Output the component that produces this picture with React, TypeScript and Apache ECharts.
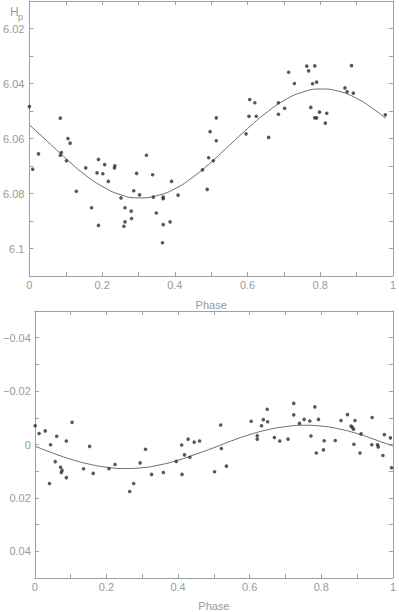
import React, { useEffect, useRef } from "react";
import * as echarts from "echarts";

// ---- Top panel (Hp magnitude) ----
const topPhase = [
  0.000, 0.085, 0.106, 0.112, 0.497, 0.514, 0.514, 0.596, 0.604, 0.606,
  0.620, 0.624, 0.658, 0.685, 0.685, 0.702, 0.713, 0.729, 0.763, 0.768,
  0.785, 0.779, 0.790, 0.774, 0.785, 0.790, 0.798, 0.814, 0.818, 0.868,
  0.874, 0.886, 0.891, 0.979, 0.009, 0.025, 0.085, 0.088, 0.102, 0.129,
  0.155, 0.171, 0.186, 0.190, 0.190, 0.202, 0.207, 0.217, 0.234, 0.235,
  0.252, 0.263, 0.260, 0.263, 0.280, 0.281, 0.287, 0.295, 0.303, 0.322,
  0.339, 0.341, 0.349, 0.368, 0.368, 0.368, 0.366, 0.387, 0.391, 0.409,
  0.476, 0.493, 0.506, 0.489,
];
const topMag = [
  6.0484, 6.0526, 6.0600, 6.0617, 6.0575, 6.0525, 6.0608, 6.0583, 6.0519, 6.0458,
  6.0470, 6.0519, 6.0596, 6.0470, 6.0512, 6.0490, 6.0359, 6.0400, 6.0337, 6.0354,
  6.0336, 6.0401, 6.0395, 6.0487, 6.0525, 6.0525, 6.0504, 6.0544, 6.0508, 6.0416,
  6.0430, 6.0335, 6.0435, 6.0514, 6.0712, 6.0656, 6.0661, 6.0651, 6.0681, 6.0792,
  6.0707, 6.0852, 6.0725, 6.0676, 6.0916, 6.0728, 6.0695, 6.0756, 6.0707, 6.0699,
  6.0816, 6.0852, 6.0919, 6.0903, 6.0864, 6.0891, 6.0790, 6.0727, 6.0805, 6.0661,
  6.0732, 6.0813, 6.0871, 6.0813, 6.0819, 6.0913, 6.0979, 6.0903, 6.0756, 6.0806,
  6.0714, 6.0670, 6.0681, 6.0785,
];
const topCurvePhase = [
  0, 0.05, 0.1, 0.15, 0.2, 0.25, 0.3, 0.35, 0.4, 0.45, 0.5,
  0.55, 0.6, 0.65, 0.7, 0.75, 0.8, 0.85, 0.9, 0.95, 0.98,
];
const topCurveMag = [
  6.0550, 6.0611, 6.0672, 6.0729, 6.0774, 6.0804, 6.0816, 6.0808, 6.0783, 6.0740, 6.0686,
  6.0625, 6.0564, 6.0508, 6.0462, 6.0432, 6.0420, 6.0428, 6.0454, 6.0496, 6.0527,
];

// ---- Bottom panel (residual / difference) ----
const botPhase = [
  0.001, 0.012, 0.029, 0.044, 0.061, 0.088, 0.104, 0.153, 0.309, 0.410,
  0.428, 0.445, 0.418, 0.433, 0.041, 0.057, 0.072, 0.074, 0.076, 0.088,
  0.136, 0.163, 0.207, 0.224, 0.265, 0.276, 0.294, 0.326, 0.359, 0.395,
  0.411, 0.502, 0.521, 0.535, 0.786, 0.806, 0.908, 0.972, 0.996, 0.460,
  0.519, 0.604, 0.621, 0.621, 0.633, 0.638, 0.650, 0.649, 0.669, 0.684,
  0.707, 0.723, 0.723, 0.739, 0.752, 0.768, 0.771, 0.782, 0.792, 0.808,
  0.839, 0.855, 0.873, 0.883, 0.887, 0.890, 0.891, 0.894, 0.911, 0.942,
  0.941, 0.957, 0.959, 0.976, 0.993,
];
const botDelta = [
  -0.0070, -0.0041, -0.0051, 0.0001, -0.0031, -0.0013, -0.0083, 0.0007, 0.0018, 0.0002,
  -0.0020, -0.0009, 0.0039, 0.0048, 0.0146, 0.0064, 0.0085, 0.0105, 0.0097, 0.0124,
  0.0091, 0.0108, 0.0091, 0.0075, 0.0176, 0.0146, 0.0069, 0.0112, 0.0105, 0.0063,
  0.0112, 0.0102, 0.0015, 0.0081, 0.0032, 0.0020, 0.0032, 0.0041, 0.0087, -0.0013,
  -0.0073, -0.0087, -0.0033, -0.0020, -0.0070, -0.0093, -0.0085, -0.0132, -0.0026, -0.0013,
  -0.0020, -0.0154, -0.0111, -0.0079, -0.0094, -0.0088, -0.0032, -0.0141, -0.0094, -0.0014,
  -0.0015, -0.0090, -0.0112, -0.0069, -0.0064, -0.0057, -0.0001, -0.0090, -0.0040, -0.0101,
  0.0001, 0.0001, 0.0009, -0.0037, -0.0025,
];
const botCurvePhase = [
  0, 0.05, 0.1, 0.15, 0.2, 0.25, 0.3, 0.35, 0.4, 0.45, 0.5,
  0.55, 0.6, 0.65, 0.7, 0.75, 0.8, 0.85, 0.9, 0.95, 1.0,
];
const botCurveDelta = [
  0.0006, 0.0032, 0.0055, 0.0073, 0.0085, 0.0090, 0.0087, 0.0076, 0.0059, 0.0036, 0.0012,
  -0.0014, -0.0037, -0.0055, -0.0067, -0.0072, -0.0069, -0.0058, -0.0041, -0.0018, 0.0006,
];

const xLabel = (v: number) => {
  const k = Math.round(v * 10);
  if (k % 2 !== 0) return "";
  if (k === 0) return "0";
  if (k === 10) return "1";
  return (k / 10).toFixed(1);
};
const topYLabel = (v: number) => {
  const k = Math.round(v * 100);
  if (k % 2 !== 0) return "";
  return String(parseFloat((k / 100).toFixed(2)));
};
const botYLabel = (v: number) => {
  const k = Math.round(v * 100);
  if (k % 2 !== 0) return "";
  if (k === 0) return "0";
  return (k < 0 ? "\u2212" : "") + Math.abs(k / 100).toFixed(2);
};

const AX = "#a0a0a0";
const TXT = "#999999";
const FONT = "Liberation Sans";

export default function App() {
  const ref = useRef<HTMLDivElement>(null);
  useEffect(() => {
    if (!ref.current) return;
    const chart = echarts.init(ref.current, undefined, { renderer: "svg" });
    const tick = { show: true, inside: true, length: 4, lineStyle: { color: AX, width: 1 } };
    const line = { show: true, onZero: false, lineStyle: { color: AX, width: 1 } };
    const lab = (fmt: (v: number) => string, margin: number) => ({
      show: true,
      formatter: fmt,
      color: TXT,
      fontFamily: FONT,
      fontSize: 11,
      margin,
      showMinLabel: true,
      showMaxLabel: true,
    });
    const xBase = (grid: number) => ({
      type: "value",
      gridIndex: grid,
      min: 0,
      max: 1,
      interval: 0.1,
      axisLine: line,
      axisTick: tick,
      splitLine: { show: false },
    });
    const nameStyle = { color: TXT, fontFamily: FONT, fontSize: 11 };
    const option: any = {
      animation: false,
      backgroundColor: "#fff",
      grid: [
        { left: 27, top: 1, width: 370, height: 275 },
        { left: 34, top: 311, width: 363, height: 269 },
      ],
      xAxis: [
        {
          ...xBase(0),
          position: "bottom",
          axisLabel: lab(xLabel, 3),
          name: "Phase",
          nameLocation: "middle",
          nameGap: 23,
          nameTextStyle: nameStyle,
        },
        { ...xBase(0), position: "top", axisLabel: { show: false } },
        {
          ...xBase(1),
          position: "bottom",
          axisLabel: lab(xLabel, 3),
          name: "Phase",
          nameLocation: "middle",
          nameGap: 22,
          nameTextStyle: nameStyle,
        },
        { ...xBase(1), position: "top", axisLabel: { show: false } },
      ],
      yAxis: [
        {
          type: "value", gridIndex: 0, inverse: true, min: 6.01, max: 6.11, interval: 0.01,
          position: "left", axisLine: line, axisTick: tick, splitLine: { show: false },
          axisLabel: lab(topYLabel, 5),
        },
        {
          type: "value", gridIndex: 0, inverse: true, min: 6.01, max: 6.11, interval: 0.01,
          position: "right", axisLine: line, axisTick: tick, splitLine: { show: false },
          axisLabel: { show: false },
        },
        {
          type: "value", gridIndex: 1, inverse: true, min: -0.05, max: 0.05, interval: 0.01,
          position: "left", axisLine: line, axisTick: tick, splitLine: { show: false },
          axisLabel: lab(botYLabel, 4),
        },
        {
          type: "value", gridIndex: 1, inverse: true, min: -0.05, max: 0.05, interval: 0.01,
          position: "right", axisLine: line, axisTick: tick, splitLine: { show: false },
          axisLabel: { show: false },
        },
      ],
      graphic: [
        { type: "text", left: 10, top: 6, style: { text: "H", fill: TXT, font: `12px ${FONT}` } },
        { type: "text", left: 18, top: 12, style: { text: "p", fill: TXT, font: `9px ${FONT}` } },
      ],
      series: [
        {
          type: "line",
          xAxisIndex: 0,
          yAxisIndex: 0,
          data: topCurvePhase.map((p, i) => [p, topCurveMag[i]]),
          smooth: true,
          showSymbol: false,
          symbol: "none",
          lineStyle: { color: "#6a6a6a", width: 1 },
          z: 2,
        },
        {
          type: "scatter",
          xAxisIndex: 0,
          yAxisIndex: 0,
          data: topPhase.map((p, i) => [p, topMag[i]]),
          symbol: "circle",
          symbolSize: 3.6,
          itemStyle: { color: "#2e2e2e" },
          z: 3,
        },
        {
          type: "line",
          xAxisIndex: 2,
          yAxisIndex: 2,
          data: botCurvePhase.map((p, i) => [p, botCurveDelta[i]]),
          smooth: true,
          showSymbol: false,
          symbol: "none",
          lineStyle: { color: "#6a6a6a", width: 1 },
          z: 2,
        },
        {
          type: "scatter",
          xAxisIndex: 2,
          yAxisIndex: 2,
          data: botPhase.map((p, i) => [p, botDelta[i]]),
          symbol: "circle",
          symbolSize: 3.6,
          itemStyle: { color: "#2e2e2e" },
          z: 3,
        },
      ],
    };
    chart.setOption(option);
    return () => chart.dispose();
  }, []);
  return (
    <div
      ref={ref}
      style={{ position: "fixed", left: 0, top: 0, width: 399, height: 612, background: "#fff" }}
    />
  );
}
